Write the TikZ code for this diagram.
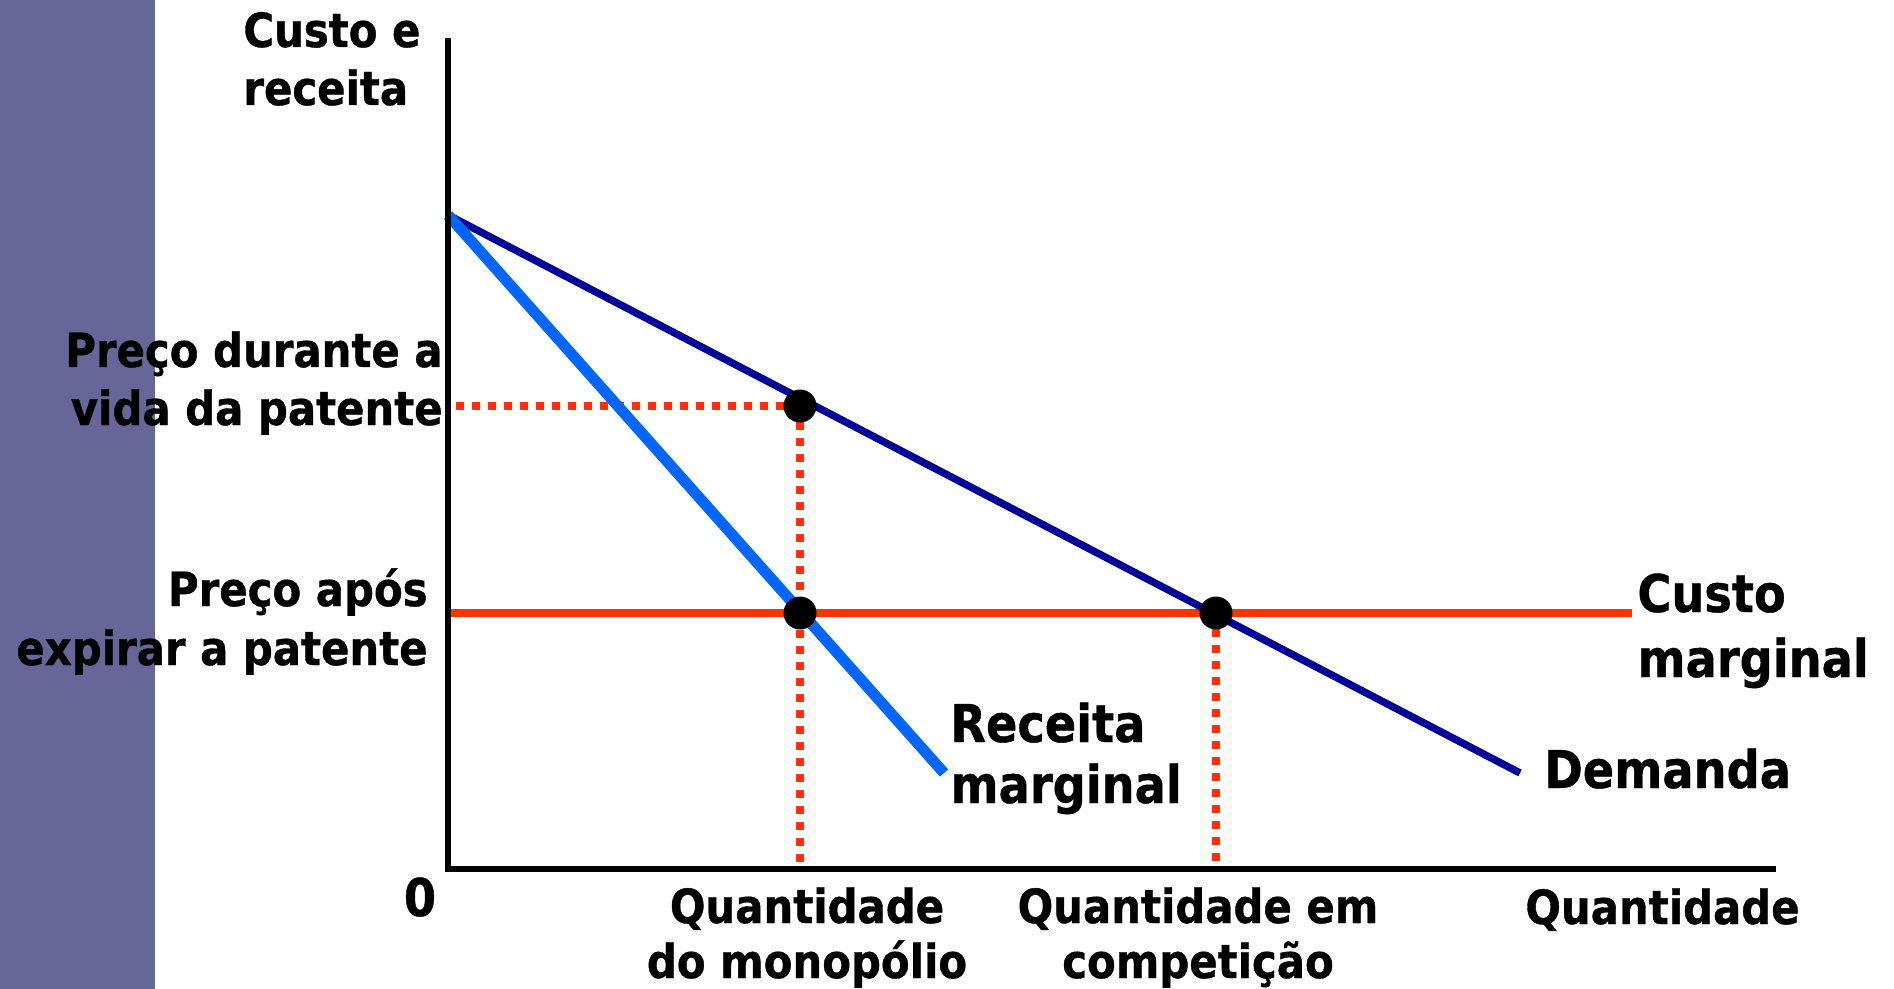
\documentclass[tikz,border=0pt]{standalone}
\usepackage{fontspec}
\newfontfamily\labfont[FakeStretch=0.89, BoldFeatures={FakeBold=0.8}]{DejaVu Sans}
\definecolor{barpurple}{HTML}{666699}
\definecolor{demblue}{HTML}{000099}
\definecolor{mrblue}{HTML}{0066FF}
\definecolor{mcred}{HTML}{FF3300}
\tikzset{
  small/.style={inner sep=0pt, font=\labfont\bfseries\fontsize{23.5}{29}\selectfont},
  big/.style={inner sep=0pt, font=\labfont\bfseries\fontsize{26}{31.5}\selectfont},
  axisline/.style={line width=3pt, black, line join=miter},
  demandline/.style={line width=3.7pt, demblue},
  mrline/.style={line width=5.5pt, mrblue},
  mcline/.style={line width=3.6pt, mcred},
  guide/.style={line width=4pt, mcred, dash pattern=on 4pt off 4pt},
  eqdot/.style={circle, fill=black, minimum size=16.5pt, inner sep=0pt}
}
\begin{document}
\begin{tikzpicture}[x=0.5pt,y=-0.5pt]
\useasboundingbox (0,0) rectangle (1894,989);
\fill[barpurple] (0,0) rectangle (155,989);
% coordinates
\coordinate (O) at (448,869);
\coordinate (ytop) at (448,38);
\coordinate (xend) at (1776,869);
\coordinate (A) at (448,215);
\coordinate (Dend) at (1520,773);
\coordinate (MRend) at (944,773);
\coordinate (MCstart) at (448,613);
\coordinate (MCend) at (1632,613);
\coordinate (p1) at (456,406);
\coordinate (q1) at (800,869);
\coordinate (q2) at (1216,869);
\path (800,406) coordinate (c1) (800,613) coordinate (c2) (1216,613) coordinate (c3);
% guides
\draw[guide] (p1) -- (c1);
\draw[guide] (c1) -- (q1);
\draw[guide] (c3) -- (q2);
% curves
\draw[mcline] (MCstart) -- (MCend);
\draw[demandline] (A) -- (Dend);
\draw[mrline] (A) -- (MRend);
% axes
\draw[axisline] (ytop) -- (O) -- (xend);
% dots
\node[eqdot] (d1) at (c1) {};
\node[eqdot] (d2) at (c2) {};
\node[eqdot] (d3) at (c3) {};
% labels
\node[small, anchor=base west] (yl1) at (243,47) {Custo e};
\node[small, anchor=base west] (yl2) at (243,105) {receita};
\node[small, anchor=base east] (pm1) at (443,367) {Preço durante a};
\node[small, anchor=base east] (pm2) at (443,425) {vida da patente};
\node[small, anchor=base east] (pc1) at (428,606) {Preço após};
\node[small, anchor=base east] (pc2) at (428,665) {expirar a patente};
\node[big, anchor=base] (zero) at (420,916) {0};
\node[big, anchor=base west] (mr1) at (950,742) {Receita};
\node[big, anchor=base west] (mr2) at (950,803) {marginal};
\node[big, anchor=base west] (mc1) at (1637,612) {Custo};
\node[big, anchor=base west] (mc2) at (1637,677) {marginal};
\node[big, anchor=base west] (dem) at (1544,788) {Demanda};
\node[small, anchor=base] (qm1) at (807,923) {Quantidade};
\node[small, anchor=base] (qm2) at (807,978) {do monopólio};
\node[small, anchor=base] (qc1) at (1198,923) {Quantidade em};
\node[small, anchor=base] (qc2) at (1198,978) {competição};
\node[small, anchor=base west] (qx) at (1525,924) {Quantidade};
\end{tikzpicture}
\end{document}
